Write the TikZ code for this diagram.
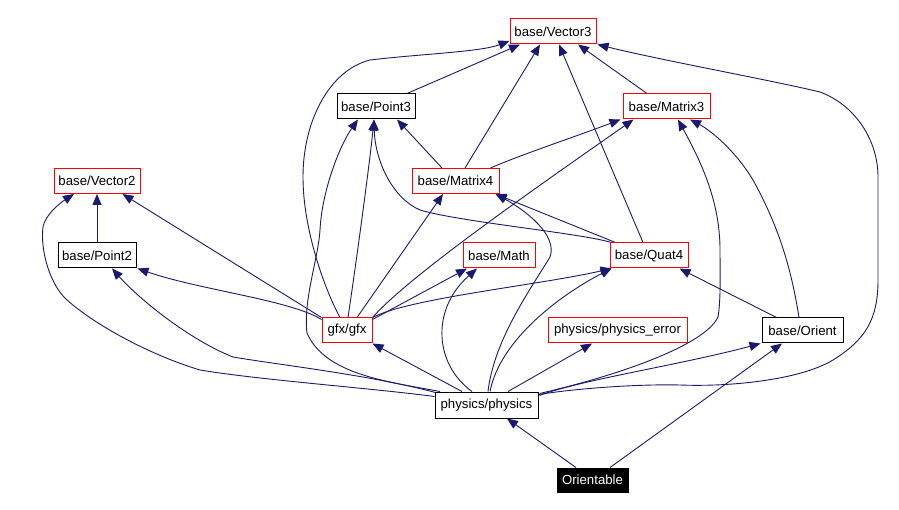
\documentclass[tikz,border=0pt]{standalone}
\usepackage{fontspec}
\setmainfont{Liberation Sans}
\usetikzlibrary{arrows.meta,calc,backgrounds}
\definecolor{edgeblue}{RGB}{25,25,112}
\definecolor{boxred}{RGB}{255,0,0}
\begin{document}
\begin{tikzpicture}[x=1pt,y=-1pt,
  box/.style={draw, line width=1pt, fill=white, inner sep=0pt, minimum height=25pt, font=\fontsize{13.2pt}{15pt}\selectfont, text=black},
  redbox/.style={box, draw=boxred},
  blackbox/.style={box, draw=black},
  darkbox/.style={box, draw=black, fill=black, text=white, minimum height=24pt},
  dep/.style={draw=edgeblue, line width=0.9pt, -{Triangle[length=11pt,width=9pt]}}
]
\useasboundingbox (0,0) rectangle (899,510);
% nodes
\node[redbox, minimum width=86pt] (V3) at (553,31.5) {base/Vector3};
\node[blackbox, minimum width=78pt] (P3) at (376,106.5) {base/Point3};
\node[redbox, minimum width=87pt] (M3) at (666.5,106.5) {base/Matrix3};
\node[redbox, minimum width=86pt] (V2) at (97,181) {base/Vector2};
\node[redbox, minimum width=87pt] (M4) at (455.5,181) {base/Matrix4};
\node[blackbox, minimum width=78pt] (P2) at (97,255.5) {base/Point2};
\node[redbox, minimum width=72pt] (Math) at (499,255.5) {base/Math};
\node[redbox, minimum width=78pt] (Q4) at (649,255.5) {base/Quat4};
\node[redbox, minimum width=50pt] (gfx) at (347,330.5) {gfx/gfx};
\node[redbox, minimum width=139pt] (err) at (617.5,330.5) {physics/physics\_error};
\node[blackbox, minimum width=81pt] (Or) at (802.5,330.5) {base/Orient};
\node[blackbox, minimum width=103pt, minimum height=26pt] (phys) at (486.5,405) {physics/physics};
\node[darkbox, minimum width=71pt] (Orb) at (592.5,480) {Orientable};
% edges
\begin{pgfonlayer}{background}
\draw[dep] ($(P3.north)+(31,0)$) -- ($(V3.south)+(-33,0)$);
\draw[dep] ($(M4.north)+(9.5,0)$) -- ($(V3.south)+(-13,0)$);
\draw[dep] ($(Q4.north)+(-6,0)$) -- ($(V3.south)+(6,0)$);
\draw[dep] ($(M3.north)+(-19.5,0)$) -- ($(V3.south)+(25,0)$);
\draw[dep] ($(gfx.north)+(-7,0)$) .. controls (325,290) and (303,230) .. (303,177)
   .. controls (303,120) and (330,70) .. (370,60)
   .. controls (420,54) and (480,52) .. ($(V3.west)+(0,9.5)$);
\draw[dep] ($(phys.north east)+(0,3)$) .. controls (580,388) and (640,384) .. (680,385)
   .. controls (730,387) and (800,380) .. (833,360)
   .. controls (865,340) and (878,320) .. (878,280)
   .. controls (878,240) and (878,200) .. (878,177)
   .. controls (878,140) and (855,105) .. (820,92)
   .. controls (770,80) and (660,60) .. ($(V3.south east)+(1,0)$);
\draw[dep] ($(M4.north)+(-13.5,0)$) -- ($(P3.south)+(21,0)$);
\draw[dep] ($(gfx.north)+(1,0)$) .. controls (358,250) and (370,160) .. ($(P3.south)+(-2,0)$);
\draw[dep] ($(Q4.north west)+(2,0)$) .. controls (580,233) and (460,222) .. (420,210)
   .. controls (392,198) and (375,160) .. ($(P3.south)+(-2,0)$);
\draw[dep] ($(phys.north)+(-46.5,0)$) .. controls (390,382) and (325,375) .. (307,333)
   .. controls (303,300) and (318,260) .. (320,230)
   .. controls (322,190) and (340,145) .. ($(P3.south)+(-18,0)$);
\draw[dep] ($(M4.north east)+(-9,0)$) .. controls (520,155) and (580,135) .. ($(M3.south west)+(-2,0)$);
\draw[dep] (gfx.north east) .. controls (410,275) and (540,185) .. ($(M3.south west)+(11,0)$);
\draw[dep] ($(phys.north east)+(1,2)$) .. controls (620,375) and (705,345) .. (718,317)
   .. controls (721,300) and (720,270) .. (720,250)
   .. controls (720,200) and (700,160) .. ($(M3.south)+(11.5,0)$);
\draw[dep] ($(Or.north)+(-3.5,0)$) .. controls (790,260) and (775,220) .. (753,180)
   .. controls (735,150) and (710,130) .. ($(M3.south)+(23.5,0)$);
\draw[dep] ($(gfx.north)+(10,0)$) -- ($(M4.south)+(-12.5,0)$);
\draw[dep] ($(Q4.north west)+(6,0)$) -- ($(M4.south east)+(-4,0)$);
\draw[dep] ($(phys.north)+(1.5,0)$) .. controls (494,340) and (530,290) .. (550,257)
   .. controls (558,235) and (525,210) .. ($(M4.south east)+(-4,0)$);
\draw[dep] (gfx.north east) .. controls (410,298) and (540,285) .. ($(Q4.south west)+(2,0)$);
\draw[dep] ($(phys.north)+(3.5,0)$) .. controls (500,340) and (560,295) .. ($(Q4.south west)+(2,0)$);
\draw[dep] ($(Or.north west)+(15,0)$) -- ($(Q4.south east)+(-9,0)$);
\draw[dep] ($(gfx.north east)+(0,2)$) -- ($(Math.south)+(-32,0)$);
\draw[dep] ($(phys.north)+(-14.5,0)$) .. controls (435,365) and (430,310) .. ($(Math.south)+(-22,0)$);
\draw[dep] (P2.north) -- (V2.south);
\draw[dep] (gfx.north west) -- ($(V2.south east)+(-18,0)$);
\draw[dep] ($(phys.north west)+(0,5)$) .. controls (370,388) and (260,380) .. (200,370)
   .. controls (150,355) and (95,325) .. (67,300)
   .. controls (50,285) and (40,250) .. (43,227)
   .. controls (45,215) and (60,203) .. ($(V2.south)+(-23,0)$);
\draw[dep] ($(gfx.north west)+(0,2)$) .. controls (290,300) and (200,290) .. ($(P2.south east)+(1,0)$);
\draw[dep] ($(phys.north west)+(1,1)$) .. controls (370,375) and (280,365) .. (233,357)
   .. controls (190,340) and (140,300) .. ($(P2.south)+(15,0)$);
\draw[dep] ($(phys.north)+(-24.5,0)$) -- (gfx.south east);
\draw[dep] ($(phys.north)+(21.5,0)$) -- ($(err.south)+(-25.5,0)$);
\draw[dep] ($(phys.north east)+(1,4)$) .. controls (580,380) and (680,365) .. ($(Or.south west)+(-1,0)$);
\draw[dep] ($(Orb.north)+(-16.5,0)$) -- ($(phys.south)+(20.5,0)$);
\draw[dep] ($(Orb.north)+(17.5,0)$) -- ($(Or.south)+(-20.5,0)$);
\end{pgfonlayer}
\end{tikzpicture}
\end{document}
